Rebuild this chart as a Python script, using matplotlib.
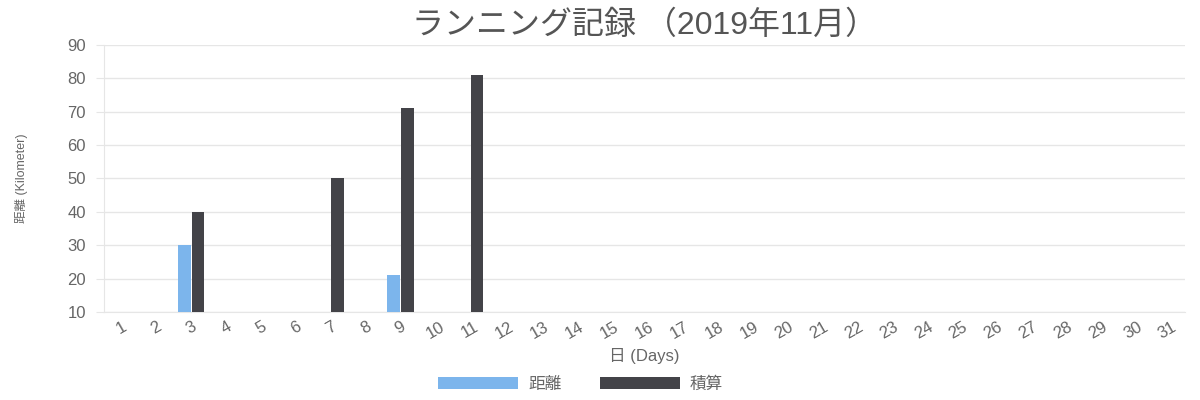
import matplotlib
matplotlib.use("Agg")
import matplotlib.pyplot as plt
import numpy as np

plt.rcParams['font.family'] = ['Liberation Sans', 'Noto Sans CJK JP', 'DejaVu Sans']

days = [str(d) for d in range(1, 32)]
distance = [10, 0, 30, 0, 0, 0, 10, 0, 21, 0, 10] + [0] * 20
cumulative = [10, 0, 40, 0, 0, 0, 50, 0, 71, 0, 81] + [0] * 20
yticks = [10, 20, 30, 40, 50, 60, 70, 80, 90]

title = "ランニング記録 （2019年11月）"
xlabel = "日 (Days)"
ylabel = "距離 (Kilometer)"
series_names = ["距離", "積算"]
colors = ["#7cb5ec", "#434348"]

fig = plt.figure(figsize=(12, 4), dpi=100)
ax = fig.add_axes([0.0867, 0.22, 0.9008, 0.6675])

x = np.arange(len(days))
w = 0.36
ax.bar(x - 0.2, distance, width=w, color=colors[0], label=series_names[0], zorder=3)
ax.bar(x + 0.2, cumulative, width=w, color=colors[1], label=series_names[1], zorder=3)

ax.set_xlim(-0.5, len(days) - 0.5)
ax.set_ylim(10, 90)
ax.set_yticks(yticks)
ax.set_xticks(x)
ax.set_xticklabels(days, rotation=30, ha='center', rotation_mode='default')
ax.tick_params(axis='x', length=0, pad=5, labelsize=12, colors='#666666')
ax.tick_params(axis='y', length=6, color='#e6e6e6', pad=7, labelsize=12, labelcolor='#666666')
ax.grid(axis='y', color='#e6e6e6', linewidth=1, zorder=0)
for s in ['top', 'right']:
    ax.spines[s].set_visible(False)
ax.spines['left'].set_color('#e6e6e6')
ax.spines['bottom'].set_color('#e6e6e6')

ax.set_title(title, fontsize=23, color='#555555', pad=8)
ax.set_xlabel(xlabel, fontsize=12, color='#666666', labelpad=5)
ax.set_ylabel(ylabel, fontsize=9, color='#666666', labelpad=28)

leg = fig.legend(loc='lower center', bbox_to_anchor=(0.484, 0.0), ncol=2, frameon=False,
                 fontsize=12, handlelength=4.8, handleheight=0.78, columnspacing=2.3,
                 handletextpad=0.6, borderaxespad=0.1)
for t in leg.get_texts():
    t.set_color('#666666')

fig.savefig("out.png", dpi=100)
